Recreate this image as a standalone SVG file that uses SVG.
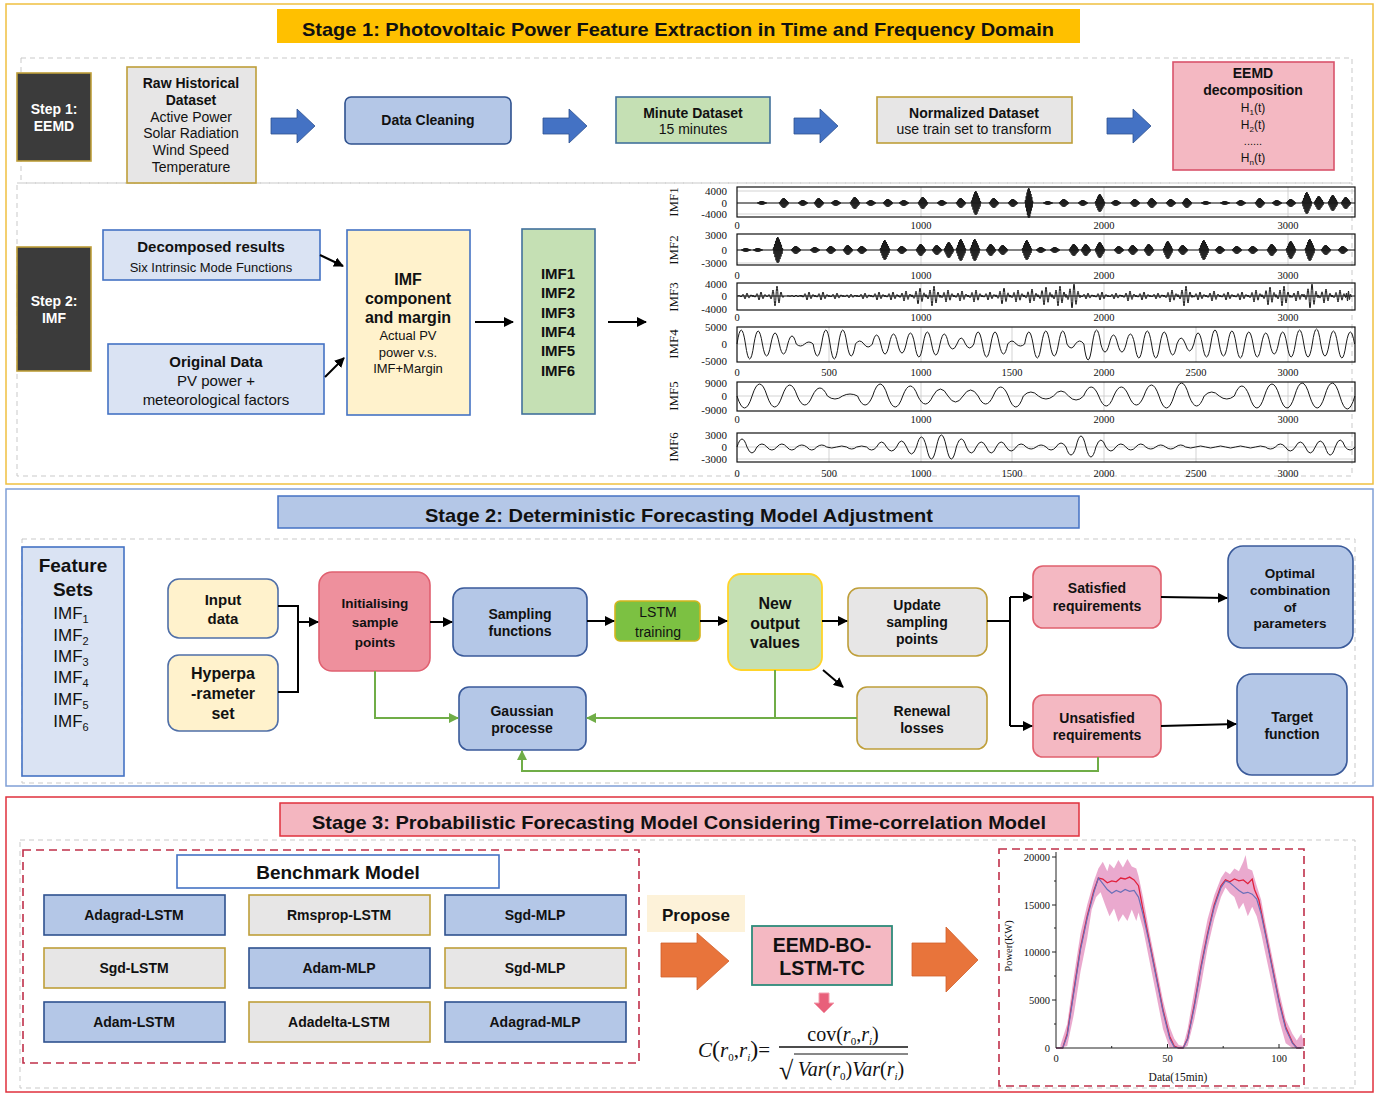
<svg xmlns="http://www.w3.org/2000/svg" xmlns:xlink="http://www.w3.org/1999/xlink" width="1390" height="1093" viewBox="0 0 1390 1093">
<style>
.f{font-family:"Liberation Sans",Arial,sans-serif;fill:#111;text-anchor:middle}
.fb{font-weight:bold}
.w{fill:#fff}
.sr{font-family:"Liberation Serif","Times New Roman",serif;fill:#111}
.dash{fill:none;stroke:#c9c9c9;stroke-width:1;stroke-dasharray:5 4}
.nb{fill:#b4c7e7;stroke:#2f528f;stroke-width:1.6}
.ng{fill:#e7e6e6;stroke:#bf9f3a;stroke-width:1.6}
.np{fill:#f4b8c2;stroke:#e0606e;stroke-width:1.6}
.nl{fill:#dae3f3;stroke:#4472c4;stroke-width:1.6}
.ny{fill:#fff2cc;stroke:#4472c4;stroke-width:1.6}
.ngr{fill:#c5e0b4;stroke:#41719c;stroke-width:1.6}
.dk{fill:#3b3b3b;stroke:#bf9f3a;stroke-width:1.6}
.blk{fill:none;stroke:#000;stroke-width:2}
.grn{fill:none;stroke:#70ad47;stroke-width:2}
.frame{fill:none;stroke:#111;stroke-width:1.2}
.grid{stroke:#c8c8c8;stroke-width:0.8}
.wave{fill:none;stroke:#1a1a1a;stroke-width:1}
</style>
<defs>
<marker id="ah" viewBox="0 0 10 10" refX="9" refY="5" markerWidth="10" markerHeight="10" markerUnits="userSpaceOnUse" orient="auto"><path d="M0,0 L10,5 L0,10 z" fill="#000"/></marker>
<marker id="ahg" viewBox="0 0 10 10" refX="9" refY="5" markerWidth="10" markerHeight="10" markerUnits="userSpaceOnUse" orient="auto"><path d="M0,0 L10,5 L0,10 z" fill="#70ad47"/></marker>
<path id="barrow" d="M0,-8 H26 V-17 L44,0 L26,17 V8 H0 Z" fill="#4472c4" stroke="#2f528f" stroke-width="0.8"/>
<path id="bu" vector-effect="non-scaling-stroke" d="M-5,0 L-4.5,-0.2 L-4,0.3 L-3.5,-0.45 L-3,0.55 L-2.5,-0.7 L-2,0.8 L-1.5,-0.9 L-1,0.95 L-0.5,-1 L0,1 L0.5,-0.95 L1,0.9 L1.5,-0.8 L2,0.7 L2.5,-0.6 L3,0.5 L3.5,-0.4 L4,0.3 L4.5,-0.15 L5,0"/>
<path id="wp" vector-effect="non-scaling-stroke" d="M-8,0 q1,-0.3 2,0 q1,0.6 2,0 q1,-1.2 2,0 q1,2 2,0 q1,-2 2,0 q1,1.4 2,0 q1,-0.8 2,0 q1,0.3 2,0"/>
</defs>

<!-- panels -->
<rect x="6" y="4" width="1367" height="480" fill="#fff" stroke="#f0c040" stroke-width="1.5"/>
<rect x="6" y="489" width="1367" height="297" fill="#fff" stroke="#7f9fd6" stroke-width="1.5"/>
<rect x="6" y="797" width="1367" height="295" fill="#fff" stroke="#e0303d" stroke-width="1.5"/>
<rect class="dash" x="21" y="58" width="1331" height="125"/>
<rect class="dash" x="17" y="183" width="1335" height="293"/>
<rect class="dash" x="22" y="539" width="1333" height="244"/>
<rect class="dash" x="20" y="840" width="1335" height="248"/>

<g id="title1"><rect x="277" y="9" width="803" height="34" fill="#ffc000"/><text class="f fb" x="678" y="36" font-size="19" textLength="752" lengthAdjust="spacingAndGlyphs">Stage 1: Photovoltaic Power Feature Extraction in Time and Frequency Domain</text></g>
<g id="title2"><rect x="278" y="496" width="801" height="32" fill="#b4c7e7" stroke="#4472c4" stroke-width="1.5"/><text class="f fb" x="679" y="522" font-size="19" textLength="508" lengthAdjust="spacingAndGlyphs">Stage 2: Deterministic Forecasting Model Adjustment</text></g>
<g id="title3"><rect x="280" y="803" width="799" height="33" fill="#f4b6c0" stroke="#e0303d" stroke-width="1.5"/><text class="f fb" x="679" y="829" font-size="19" textLength="734" lengthAdjust="spacingAndGlyphs">Stage 3: Probabilistic Forecasting Model Considering Time-correlation Model</text></g>

<!-- Stage 1 row 1 -->
<g id="step1"><rect class="dk" x="17" y="73" width="74" height="88"/><text class="f fb w" x="54" y="114" font-size="14">Step 1:</text><text class="f fb w" x="54" y="131" font-size="14">EEMD</text></g>
<g id="raw"><rect class="ng" x="127" y="67" width="129" height="116"/>
<text class="f fb" x="191" y="88" font-size="14">Raw Historical</text><text class="f fb" x="191" y="105" font-size="14">Dataset</text>
<text class="f" x="191" y="122" font-size="14">Active Power</text><text class="f" x="191" y="138" font-size="14">Solar Radiation</text><text class="f" x="191" y="155" font-size="14">Wind Speed</text><text class="f" x="191" y="172" font-size="14">Temperature</text></g>
<g id="clean"><rect class="nb" x="345" y="97" width="166" height="47" rx="6"/><text class="f fb" x="428" y="125" font-size="14">Data Cleaning</text></g>
<g id="minute"><rect class="ngr" x="616" y="97" width="154" height="46" stroke="#3f5f9f"/><text class="f fb" x="693" y="118" font-size="14">Minute Dataset</text><text class="f" x="693" y="134" font-size="14">15 minutes</text></g>
<g id="norm"><rect class="ng" x="877" y="97" width="195" height="46"/><text class="f fb" x="974" y="118" font-size="14">Normalized Dataset</text><text class="f" x="974" y="134" font-size="14">use train set to transform</text></g>
<g id="eemd"><rect x="1173" y="62" width="161" height="108" fill="#f4b8c2" stroke="#d9536b" stroke-width="1.6"/>
<text class="f fb" x="1253" y="78" font-size="14">EEMD</text><text class="f fb" x="1253" y="95" font-size="14">decomposition</text>
<text class="f" x="1253" y="112" font-size="12">H<tspan font-size="8" dy="3">1</tspan><tspan dy="-3">(t)</tspan></text>
<text class="f" x="1253" y="129" font-size="12">H<tspan font-size="8" dy="3">2</tspan><tspan dy="-3">(t)</tspan></text>
<text class="f" x="1253" y="145" font-size="11">......</text>
<text class="f" x="1253" y="162" font-size="12">H<tspan font-size="8" dy="3">n</tspan><tspan dy="-3">(t)</tspan></text></g>

<!-- Stage 1 row 2 -->
<g id="step2"><rect class="dk" x="17" y="247" width="74" height="124"/><text class="f fb w" x="54" y="306" font-size="14">Step 2:</text><text class="f fb w" x="54" y="323" font-size="14">IMF</text></g>
<g id="decomp"><rect class="nl" x="103" y="230" width="217" height="50"/><text class="f fb" x="211" y="252" font-size="15">Decomposed results</text><text class="f" x="211" y="272" font-size="13">Six Intrinsic Mode Functions</text></g>
<g id="orig"><rect class="nl" x="108" y="344" width="216" height="70"/><text class="f fb" x="216" y="367" font-size="15">Original Data</text><text class="f" x="216" y="386" font-size="15">PV power +</text><text class="f" x="216" y="405" font-size="15">meteorological factors</text></g>
<g id="imfcomp"><rect class="ny" x="347" y="230" width="123" height="185"/>
<text class="f fb" x="408" y="285" font-size="16">IMF</text><text class="f fb" x="408" y="304" font-size="16">component</text><text class="f fb" x="408" y="323" font-size="16">and margin</text>
<text class="f" x="408" y="340" font-size="13">Actual PV</text><text class="f" x="408" y="357" font-size="13">power v.s.</text><text class="f" x="408" y="373" font-size="13">IMF+Margin</text></g>
<g id="imflist"><rect class="ngr" x="522" y="229" width="73" height="185"/>
<text class="f fb" x="558" y="279" font-size="15">IMF1</text><text class="f fb" x="558" y="298" font-size="15">IMF2</text><text class="f fb" x="558" y="318" font-size="15">IMF3</text><text class="f fb" x="558" y="337" font-size="15">IMF4</text><text class="f fb" x="558" y="356" font-size="15">IMF5</text><text class="f fb" x="558" y="376" font-size="15">IMF6</text></g>

<!-- IMF plots -->
<g id="imfplots">
<g class="grid">
<line x1="921" y1="187" x2="921" y2="217"/><line x1="1104" y1="187" x2="1104" y2="217"/><line x1="1288" y1="187" x2="1288" y2="217"/>
<line x1="737" y1="191" x2="1355" y2="191"/><line x1="737" y1="203" x2="1355" y2="203"/><line x1="737" y1="214" x2="1355" y2="214"/>
<line x1="921" y1="234" x2="921" y2="265"/><line x1="1104" y1="234" x2="1104" y2="265"/><line x1="1288" y1="234" x2="1288" y2="265"/>
<line x1="737" y1="250" x2="1355" y2="250"/><line x1="737" y1="263" x2="1355" y2="263"/>
<line x1="921" y1="283" x2="921" y2="310"/><line x1="1104" y1="283" x2="1104" y2="310"/><line x1="1288" y1="283" x2="1288" y2="310"/>
<line x1="737" y1="296" x2="1355" y2="296"/>
<line x1="829" y1="327" x2="829" y2="362"/><line x1="921" y1="327" x2="921" y2="362"/><line x1="1012" y1="327" x2="1012" y2="362"/><line x1="1104" y1="327" x2="1104" y2="362"/><line x1="1196" y1="327" x2="1196" y2="362"/><line x1="1288" y1="327" x2="1288" y2="362"/>
<line x1="737" y1="344" x2="1355" y2="344"/>
<line x1="921" y1="382" x2="921" y2="411"/><line x1="1104" y1="382" x2="1104" y2="411"/><line x1="1288" y1="382" x2="1288" y2="411"/>
<line x1="737" y1="396" x2="1355" y2="396"/>
<line x1="829" y1="433" x2="829" y2="462"/><line x1="921" y1="433" x2="921" y2="462"/><line x1="1012" y1="433" x2="1012" y2="462"/><line x1="1104" y1="433" x2="1104" y2="462"/><line x1="1196" y1="433" x2="1196" y2="462"/><line x1="1288" y1="433" x2="1288" y2="462"/>
<line x1="737" y1="447" x2="1355" y2="447"/><line x1="737" y1="459" x2="1355" y2="459"/>
</g>
<g class="wave">
<line x1="737" y1="203" x2="1355" y2="203"/>
<use xlink:href="#bu" transform="translate(762,203) scale(1,2)"/>
<use xlink:href="#bu" transform="translate(784,203) scale(1,5)"/>
<use xlink:href="#bu" transform="translate(803,203) scale(1,3)"/>
<use xlink:href="#bu" transform="translate(819,203) scale(1,5)"/>
<use xlink:href="#bu" transform="translate(836,203) scale(1,3)"/>
<use xlink:href="#bu" transform="translate(855,203) scale(1,6)"/>
<use xlink:href="#bu" transform="translate(871,203) scale(1,3)"/>
<use xlink:href="#bu" transform="translate(888,203) scale(1,4)"/>
<use xlink:href="#bu" transform="translate(904,203) scale(1,3)"/>
<use xlink:href="#bu" transform="translate(923,203) scale(1,6)"/>
<use xlink:href="#bu" transform="translate(942,203) scale(1,3)"/>
<use xlink:href="#bu" transform="translate(961,203) scale(1,5)"/>
<use xlink:href="#bu" transform="translate(976,203) scale(1,12)"/>
<use xlink:href="#bu" transform="translate(994,203) scale(1,5)"/>
<use xlink:href="#bu" transform="translate(1013,203) scale(1,4)"/>
<use xlink:href="#bu" transform="translate(1029,203) scale(0.8,15)"/>
<use xlink:href="#bu" transform="translate(1048,203) scale(1,2)"/>
<use xlink:href="#bu" transform="translate(1064,203) scale(1,4)"/>
<use xlink:href="#bu" transform="translate(1083,203) scale(1,3)"/>
<use xlink:href="#bu" transform="translate(1100,203) scale(1,9)"/>
<use xlink:href="#bu" transform="translate(1116,203) scale(1,3)"/>
<use xlink:href="#bu" transform="translate(1135,203) scale(1,4)"/>
<use xlink:href="#bu" transform="translate(1152,203) scale(1,5)"/>
<use xlink:href="#bu" transform="translate(1171,203) scale(1,4)"/>
<use xlink:href="#bu" transform="translate(1187,203) scale(1,5)"/>
<use xlink:href="#bu" transform="translate(1206,203) scale(1,2)"/>
<use xlink:href="#bu" transform="translate(1225,203) scale(1,2)"/>
<use xlink:href="#bu" transform="translate(1241,203) scale(1,3)"/>
<use xlink:href="#bu" transform="translate(1260,203) scale(1,5)"/>
<use xlink:href="#bu" transform="translate(1277,203) scale(1,3)"/>
<use xlink:href="#bu" transform="translate(1291,203) scale(1,4)"/>
<use xlink:href="#bu" transform="translate(1307,203) scale(1,11)"/>
<use xlink:href="#bu" transform="translate(1319,203) scale(1,7)"/>
<use xlink:href="#bu" transform="translate(1333,203) scale(1,8)"/>
<use xlink:href="#bu" transform="translate(1346,203) scale(1,6)"/>

<line x1="737" y1="250" x2="1355" y2="250"/>
<use xlink:href="#bu" transform="translate(746,250) scale(1,2)"/>
<use xlink:href="#bu" transform="translate(758,250) scale(1,2)"/>
<use xlink:href="#bu" transform="translate(778,250) scale(1,13)"/>
<use xlink:href="#bu" transform="translate(796,250) scale(1,4)"/>
<use xlink:href="#bu" transform="translate(815,250) scale(1,3)"/>
<use xlink:href="#bu" transform="translate(831,250) scale(1,4)"/>
<use xlink:href="#bu" transform="translate(848,250) scale(1,5)"/>
<use xlink:href="#bu" transform="translate(862,250) scale(1,4)"/>
<use xlink:href="#bu" transform="translate(885,250) scale(1,10)"/>
<use xlink:href="#bu" transform="translate(902,250) scale(1,4)"/>
<use xlink:href="#bu" transform="translate(921,250) scale(1,6)"/>
<use xlink:href="#bu" transform="translate(937,250) scale(1,5)"/>
<use xlink:href="#bu" transform="translate(949,250) scale(1,8)"/>
<use xlink:href="#bu" transform="translate(961,250) scale(1,11)"/>
<use xlink:href="#bu" transform="translate(975,250) scale(1,11)"/>
<use xlink:href="#bu" transform="translate(991,250) scale(1,6)"/>
<use xlink:href="#bu" transform="translate(1003,250) scale(1,5)"/>
<use xlink:href="#bu" transform="translate(1027,250) scale(1,10)"/>
<use xlink:href="#bu" transform="translate(1041,250) scale(1,3)"/>
<use xlink:href="#bu" transform="translate(1055,250) scale(1,3)"/>
<use xlink:href="#bu" transform="translate(1074,250) scale(1,6)"/>
<use xlink:href="#bu" transform="translate(1086,250) scale(1,6)"/>
<use xlink:href="#bu" transform="translate(1100,250) scale(1,8)"/>
<use xlink:href="#bu" transform="translate(1119,250) scale(1,4)"/>
<use xlink:href="#bu" transform="translate(1133,250) scale(1,5)"/>
<use xlink:href="#bu" transform="translate(1149,250) scale(1,6)"/>
<use xlink:href="#bu" transform="translate(1168,250) scale(1,9)"/>
<use xlink:href="#bu" transform="translate(1183,250) scale(1,5)"/>
<use xlink:href="#bu" transform="translate(1204,250) scale(1,10)"/>
<use xlink:href="#bu" transform="translate(1220,250) scale(1,4)"/>
<use xlink:href="#bu" transform="translate(1237,250) scale(1,4)"/>
<use xlink:href="#bu" transform="translate(1253,250) scale(1,4)"/>
<use xlink:href="#bu" transform="translate(1272,250) scale(1,6)"/>
<use xlink:href="#bu" transform="translate(1291,250) scale(1,9)"/>
<use xlink:href="#bu" transform="translate(1310,250) scale(1,11)"/>
<use xlink:href="#bu" transform="translate(1326,250) scale(1,5)"/>
<use xlink:href="#bu" transform="translate(1343,250) scale(1,4)"/>

<line x1="737" y1="296" x2="1355" y2="296"/>
<use xlink:href="#wp" transform="translate(746,296) scale(1,3)"/>
<use xlink:href="#wp" transform="translate(760,296) scale(1,4)"/>
<use xlink:href="#wp" transform="translate(776,296) scale(1,10)"/>
<use xlink:href="#wp" transform="translate(795,296) scale(1,1)"/>
<use xlink:href="#wp" transform="translate(808,296) scale(1,4)"/>
<use xlink:href="#wp" transform="translate(822,296) scale(1,4)"/>
<use xlink:href="#wp" transform="translate(836,296) scale(1,3)"/>
<use xlink:href="#wp" transform="translate(850,296) scale(1,2)"/>
<use xlink:href="#wp" transform="translate(864,296) scale(1,3)"/>
<use xlink:href="#wp" transform="translate(878,296) scale(1,4)"/>
<use xlink:href="#wp" transform="translate(892,296) scale(1,4)"/>
<use xlink:href="#wp" transform="translate(905,296) scale(1,5)"/>
<use xlink:href="#wp" transform="translate(919,296) scale(1,8)"/>
<use xlink:href="#wp" transform="translate(933,296) scale(1,10)"/>
<use xlink:href="#wp" transform="translate(947,296) scale(1,6)"/>
<use xlink:href="#wp" transform="translate(961,296) scale(1,5)"/>
<use xlink:href="#wp" transform="translate(975,296) scale(1,6)"/>
<use xlink:href="#wp" transform="translate(989,296) scale(1,4)"/>
<use xlink:href="#wp" transform="translate(1003,296) scale(1,8)"/>
<use xlink:href="#wp" transform="translate(1017,296) scale(1,6)"/>
<use xlink:href="#wp" transform="translate(1031,296) scale(1,7)"/>
<use xlink:href="#wp" transform="translate(1045,296) scale(1,9)"/>
<use xlink:href="#wp" transform="translate(1059,296) scale(1,10)"/>
<use xlink:href="#wp" transform="translate(1073,296) scale(1,12)"/>
<use xlink:href="#wp" transform="translate(1087,296) scale(1,3)"/>
<use xlink:href="#wp" transform="translate(1101,296) scale(1,4)"/>
<use xlink:href="#wp" transform="translate(1115,296) scale(1,3)"/>
<use xlink:href="#wp" transform="translate(1129,296) scale(1,5)"/>
<use xlink:href="#wp" transform="translate(1143,296) scale(1,4)"/>
<use xlink:href="#wp" transform="translate(1157,296) scale(1,3)"/>
<use xlink:href="#wp" transform="translate(1171,296) scale(1,6)"/>
<use xlink:href="#wp" transform="translate(1185,296) scale(1,10)"/>
<use xlink:href="#wp" transform="translate(1199,296) scale(1,4)"/>
<use xlink:href="#wp" transform="translate(1213,296) scale(1,5)"/>
<use xlink:href="#wp" transform="translate(1227,296) scale(1,4)"/>
<use xlink:href="#wp" transform="translate(1241,296) scale(1,4)"/>
<use xlink:href="#wp" transform="translate(1255,296) scale(1,6)"/>
<use xlink:href="#wp" transform="translate(1269,296) scale(1,9)"/>
<use xlink:href="#wp" transform="translate(1283,296) scale(1,10)"/>
<use xlink:href="#wp" transform="translate(1297,296) scale(1,5)"/>
<use xlink:href="#wp" transform="translate(1311,296) scale(1,12)"/>
<use xlink:href="#wp" transform="translate(1325,296) scale(1,7)"/>
<use xlink:href="#wp" transform="translate(1339,296) scale(1,6)"/>
<use xlink:href="#wp" transform="translate(1348,296) scale(0.5,5)"/>

<path d="M737,344 q4.23,-28 8.46,0 q4.23,30 8.46,0 q4.23,-26 8.46,0 q4.23,24 8.46,0 q4.23,-22 8.46,0 q4.23,20 8.46,0 q4.23,-16 8.46,0 q4.23,4 8.46,0 q4.23,-4 8.46,0 q4.23,24 8.46,0 q4.23,-28 8.46,0 q4.23,30 8.46,0 q4.23,-28 8.46,0 q4.23,24 8.46,0 q4.23,-6 8.46,0 q4.23,6 8.46,0 q4.23,-18 8.46,0 q4.23,20 8.46,0 q4.23,-20 8.46,0 q4.23,18 8.46,0 q4.23,-22 8.46,0 q4.23,26 8.46,0 q4.23,-24 8.46,0 q4.23,22 8.46,0 q4.23,-20 8.46,0 q4.23,10 8.46,0 q4.23,-12 8.46,0 q4.23,8 8.46,0 q4.23,-24 8.46,0 q4.23,26 8.46,0 q4.23,-24 8.46,0 q4.23,20 8.46,0 q4.23,-6 8.46,0 q4.23,4 8.46,0 q4.23,-24 8.46,0 q4.23,28 8.46,0 q4.23,-26 8.46,0 q4.23,24 8.46,0 q4.23,-26 8.46,0 q4.23,8 8.46,0 q4.23,-6 8.46,0 q4.23,32 8.46,0 q4.23,-28 8.46,0 q4.23,16 8.46,0 q4.23,-18 8.46,0 q4.23,16 8.46,0 q4.23,-20 8.46,0 q4.23,28 8.46,0 q4.23,-26 8.46,0 q4.23,28 8.46,0 q4.23,-24 8.46,0 q4.23,22 8.46,0 q4.23,-12 8.46,0 q4.23,14 8.46,0 q4.23,-22 8.46,0 q4.23,26 8.46,0 q4.23,-28 8.46,0 q4.23,24 8.46,0 q4.23,-26 8.46,0 q4.23,28 8.46,0 q4.23,-24 8.46,0 q4.23,26 8.46,0 q4.23,-22 8.46,0 q4.23,20 8.46,0 q4.23,-24 8.46,0 q4.23,26 8.46,0 q4.23,-28 8.46,0 q4.23,26 8.46,0 q4.23,-30 8.46,0 q4.23,24 8.46,0 q4.23,-26 8.46,0 q4.23,28 8.46,0 q4.23,-24 8.46,0"/>

<path d="M737,396 q7.535,24 15.07,0 q7.535,-24 15.07,0 q7.535,22 15.07,0 q7.535,-22 15.07,0 q7.535,18 15.07,0 q7.535,-16 15.07,0 q7.535,6 15.07,0 q7.535,-4 15.07,0 q7.535,18 15.07,0 q7.535,-24 15.07,0 q7.535,22 15.07,0 q7.535,-20 15.07,0 q7.535,16 15.07,0 q7.535,-14 15.07,0 q7.535,12 15.07,0 q7.535,-12 15.07,0 q7.535,16 15.07,0 q7.535,-18 15.07,0 q7.535,22 15.07,0 q7.535,-8 15.07,0 q7.535,6 15.07,0 q7.535,-10 15.07,0 q7.535,8 15.07,0 q7.535,-18 15.07,0 q7.535,20 15.07,0 q7.535,-18 15.07,0 q7.535,18 15.07,0 q7.535,-22 15.07,0 q7.535,24 15.07,0 q7.535,-26 15.07,0 q7.535,20 15.07,0 q7.535,-8 15.07,0 q7.535,6 15.07,0 q7.535,-20 15.07,0 q7.535,24 15.07,0 q7.535,-24 15.07,0 q7.535,24 15.07,0 q7.535,-26 15.07,0 q7.535,24 15.07,0 q7.535,-26 15.07,0 q7.535,26 15.07,0"/>

<path d="M737,447 q4.985,-16 9.97,0 q4.985,12 9.97,0 q4.985,-6 9.97,0 q4.985,6 9.97,0 q4.985,-6 9.97,0 q4.985,6 9.97,0 q4.985,-4 9.97,0 q4.985,6 9.97,0 q4.985,-4 9.97,0 q4.985,2 9.97,0 q4.985,-2 9.97,0 q4.985,4 9.97,0 q4.985,-2 9.97,0 q4.985,6 9.97,0 q4.985,-10 9.97,0 q4.985,8 9.97,0 q4.985,-12 9.97,0 q4.985,14 9.97,0 q4.985,-20 9.97,0 q4.985,24 9.97,0 q4.985,-24 9.97,0 q4.985,24 9.97,0 q4.985,-16 9.97,0 q4.985,12 9.97,0 q4.985,-10 9.97,0 q4.985,12 9.97,0 q4.985,-10 9.97,0 q4.985,8 9.97,0 q4.985,-6 9.97,0 q4.985,4 9.97,0 q4.985,-4 9.97,0 q4.985,6 9.97,0 q4.985,-8 9.97,0 q4.985,16 9.97,0 q4.985,-22 9.97,0 q4.985,20 9.97,0 q4.985,-14 9.97,0 q4.985,8 9.97,0 q4.985,-6 9.97,0 q4.985,6 9.97,0 q4.985,-6 9.97,0 q4.985,4 9.97,0 q4.985,-4 9.97,0 q4.985,4 9.97,0 q4.985,-4 9.97,0 q4.985,2 9.97,0 q4.985,-2 9.97,0 q4.985,2 9.97,0 q4.985,-2 9.97,0 q4.985,2 9.97,0 q4.985,-2 9.97,0 q4.985,2 9.97,0 q4.985,-2 9.97,0 q4.985,4 9.97,0 q4.985,-6 9.97,0 q4.985,8 9.97,0 q4.985,-10 9.97,0 q4.985,12 9.97,0 q4.985,-12 9.97,0 q4.985,16 9.97,0 q4.985,-14 9.97,0 q4.985,6 9.97,0"/>
</g>
<rect class="frame" x="737" y="187" width="618" height="30"/>
<rect class="frame" x="737" y="234" width="618" height="31"/>
<rect class="frame" x="737" y="283" width="618" height="27"/>
<rect class="frame" x="737" y="327" width="618" height="35"/>
<rect class="frame" x="737" y="382" width="618" height="29"/>
<rect class="frame" x="737" y="433" width="618" height="29"/>
<g class="sr" font-size="11" text-anchor="end">
<text x="727" y="195">4000</text><text x="727" y="207">0</text><text x="727" y="218">-4000</text>
<text x="727" y="239">3000</text><text x="727" y="254">0</text><text x="727" y="267">-3000</text>
<text x="727" y="288">4000</text><text x="727" y="300">0</text><text x="727" y="313">-4000</text>
<text x="727" y="331">5000</text><text x="727" y="348">0</text><text x="727" y="365">-5000</text>
<text x="727" y="387">9000</text><text x="727" y="400">0</text><text x="727" y="414">-9000</text>
<text x="727" y="439">3000</text><text x="727" y="451">0</text><text x="727" y="463">-3000</text>
</g>
<g class="sr" font-size="10.5" text-anchor="middle">
<text x="737" y="229">0</text><text x="921" y="229">1000</text><text x="1104" y="229">2000</text><text x="1288" y="229">3000</text>
<text x="737" y="279">0</text><text x="921" y="279">1000</text><text x="1104" y="279">2000</text><text x="1288" y="279">3000</text>
<text x="737" y="321">0</text><text x="921" y="321">1000</text><text x="1104" y="321">2000</text><text x="1288" y="321">3000</text>
<text x="737" y="376">0</text><text x="829" y="376">500</text><text x="921" y="376">1000</text><text x="1012" y="376">1500</text><text x="1104" y="376">2000</text><text x="1196" y="376">2500</text><text x="1288" y="376">3000</text>
<text x="737" y="423">0</text><text x="921" y="423">1000</text><text x="1104" y="423">2000</text><text x="1288" y="423">3000</text>
<text x="737" y="477">0</text><text x="829" y="477">500</text><text x="921" y="477">1000</text><text x="1012" y="477">1500</text><text x="1104" y="477">2000</text><text x="1196" y="477">2500</text><text x="1288" y="477">3000</text>
</g>
<g class="sr" font-size="13" text-anchor="middle">
<text transform="translate(678,202) rotate(-90)">IMF1</text>
<text transform="translate(678,250) rotate(-90)">IMF2</text>
<text transform="translate(678,297) rotate(-90)">IMF3</text>
<text transform="translate(678,344) rotate(-90)">IMF4</text>
<text transform="translate(678,396) rotate(-90)">IMF5</text>
<text transform="translate(678,447) rotate(-90)">IMF6</text>
</g>
</g>

<!-- Stage 2 nodes -->
<g id="features"><rect x="22" y="547" width="102" height="229" fill="#dae3f3" stroke="#4472c4" stroke-width="1.6"/>
<text class="f fb" x="73" y="572" font-size="19">Feature</text><text class="f fb" x="73" y="596" font-size="19">Sets</text>
<text class="f" x="71" y="619" font-size="17">IMF<tspan font-size="11" dy="4">1</tspan></text>
<text class="f" x="71" y="641" font-size="17">IMF<tspan font-size="11" dy="4">2</tspan></text>
<text class="f" x="71" y="662" font-size="17">IMF<tspan font-size="11" dy="4">3</tspan></text>
<text class="f" x="71" y="683" font-size="17">IMF<tspan font-size="11" dy="4">4</tspan></text>
<text class="f" x="71" y="705" font-size="17">IMF<tspan font-size="11" dy="4">5</tspan></text>
<text class="f" x="71" y="727" font-size="17">IMF<tspan font-size="11" dy="4">6</tspan></text></g>
<g id="input"><rect x="168" y="579" width="110" height="59" rx="11" fill="#fff2cc" stroke="#4f6fa8" stroke-width="1.6"/><text class="f fb" x="223" y="605" font-size="15">Input</text><text class="f fb" x="223" y="624" font-size="15">data</text></g>
<g id="hyper"><rect x="168" y="655" width="110" height="76" rx="11" fill="#fff2cc" stroke="#4f6fa8" stroke-width="1.6"/><text class="f fb" x="223" y="679" font-size="16">Hyperpa</text><text class="f fb" x="223" y="699" font-size="16">-rameter</text><text class="f fb" x="223" y="719" font-size="16">set</text></g>
<g id="init"><rect x="319" y="572" width="111" height="99" rx="13" fill="#ee909d" stroke="#e06070" stroke-width="1.6"/><text class="f fb" x="375" y="608" font-size="13.5">Initialising</text><text class="f fb" x="375" y="627" font-size="13.5">sample</text><text class="f fb" x="375" y="647" font-size="13.5">points</text></g>
<g id="sampling"><rect x="453" y="588" width="134" height="68" rx="11" fill="#b4c7e7" stroke="#3a5a9a" stroke-width="1.6"/><text class="f fb" x="520" y="619" font-size="14">Sampling</text><text class="f fb" x="520" y="636" font-size="14">functions</text></g>
<g id="lstm"><rect x="615" y="601" width="85" height="40" rx="5" fill="#7cc142" stroke="#d4b51d" stroke-width="1.6"/><text class="f" x="658" y="617" font-size="14">LSTM</text><text class="f" x="658" y="637" font-size="14">training</text></g>
<g id="newout"><rect x="728" y="574" width="94" height="96" rx="13" fill="#c5e0b4" stroke="#ffd42a" stroke-width="1.8"/><text class="f fb" x="775" y="609" font-size="16">New</text><text class="f fb" x="775" y="629" font-size="16">output</text><text class="f fb" x="775" y="648" font-size="16">values</text></g>
<g id="update"><rect x="848" y="588" width="139" height="68" rx="11" class="ng"/><text class="f fb" x="917" y="610" font-size="14">Update</text><text class="f fb" x="917" y="627" font-size="14">sampling</text><text class="f fb" x="917" y="644" font-size="14">points</text></g>
<g id="satisfied"><rect x="1033" y="566" width="128" height="62" rx="10" class="np"/><text class="f fb" x="1097" y="593" font-size="14">Satisfied</text><text class="f fb" x="1097" y="611" font-size="14">requirements</text></g>
<g id="optimal"><rect x="1228" y="546" width="125" height="102" rx="15" fill="#b4c7e7" stroke="#3a5a9a" stroke-width="1.6"/><text class="f fb" x="1290" y="578" font-size="13.5">Optimal</text><text class="f fb" x="1290" y="595" font-size="13.5">combination</text><text class="f fb" x="1290" y="612" font-size="13.5">of</text><text class="f fb" x="1290" y="628" font-size="13.5">parameters</text></g>
<g id="unsatisfied"><rect x="1033" y="695" width="128" height="62" rx="10" class="np"/><text class="f fb" x="1097" y="723" font-size="14">Unsatisfied</text><text class="f fb" x="1097" y="740" font-size="14">requirements</text></g>
<g id="target"><rect x="1237" y="674" width="110" height="101" rx="15" fill="#b4c7e7" stroke="#3a5a9a" stroke-width="1.6"/><text class="f fb" x="1292" y="722" font-size="14">Target</text><text class="f fb" x="1292" y="739" font-size="14">function</text></g>
<g id="renewal"><rect x="857" y="687" width="130" height="62" rx="10" class="ng"/><text class="f fb" x="922" y="716" font-size="14">Renewal</text><text class="f fb" x="922" y="733" font-size="14">losses</text></g>
<g id="gaussian"><rect x="459" y="687" width="127" height="63" rx="10" fill="#b4c7e7" stroke="#3a5a9a" stroke-width="1.6"/><text class="f fb" x="522" y="716" font-size="14">Gaussian</text><text class="f fb" x="522" y="733" font-size="14">processe</text></g>

<!-- Stage 3 nodes -->
<rect x="23" y="850" width="616" height="213" fill="none" stroke="#c0304a" stroke-width="1.6" stroke-dasharray="8 5"/>
<g id="benchmark"><rect x="177" y="855" width="322" height="33" fill="#fff" stroke="#4472c4" stroke-width="1.6"/><text class="f fb" x="338" y="879" font-size="19">Benchmark Model</text></g>
<g id="m1"><rect class="nb" x="44" y="895" width="181" height="40"/><text class="f fb" x="134" y="920" font-size="14">Adagrad-LSTM</text></g>
<g id="m2"><rect class="ng" x="249" y="895" width="181" height="40"/><text class="f fb" x="339" y="920" font-size="14">Rmsprop-LSTM</text></g>
<g id="m3"><rect class="nb" x="445" y="895" width="181" height="40"/><text class="f fb" x="535" y="920" font-size="14">Sgd-MLP</text></g>
<g id="m4"><rect class="ng" x="44" y="948" width="181" height="40"/><text class="f fb" x="134" y="973" font-size="14">Sgd-LSTM</text></g>
<g id="m5"><rect class="nb" x="249" y="948" width="181" height="40"/><text class="f fb" x="339" y="973" font-size="14">Adam-MLP</text></g>
<g id="m6"><rect class="ng" x="445" y="948" width="181" height="40"/><text class="f fb" x="535" y="973" font-size="14">Sgd-MLP</text></g>
<g id="m7"><rect class="nb" x="44" y="1002" width="181" height="40"/><text class="f fb" x="134" y="1027" font-size="14">Adam-LSTM</text></g>
<g id="m8"><rect class="ng" x="249" y="1002" width="181" height="40"/><text class="f fb" x="339" y="1027" font-size="14">Adadelta-LSTM</text></g>
<g id="m9"><rect class="nb" x="445" y="1002" width="181" height="40"/><text class="f fb" x="535" y="1027" font-size="14">Adagrad-MLP</text></g>
<g id="propose"><rect x="647" y="895" width="98" height="37" fill="#fdf2d9"/><text class="f fb" x="696" y="921" font-size="17">Propose</text></g>
<g id="proposed"><rect x="752" y="926" width="140" height="59" fill="#f4b8c2" stroke="#2e8b7a" stroke-width="1.8"/><text class="f fb" x="822" y="952" font-size="19.5">EEMD-BO-</text><text class="f fb" x="822" y="975" font-size="19.5">LSTM-TC</text></g>
<g id="oarrow1"><path d="M661,943 H697 V933 L729,961 L697,990 V977 H661 Z" fill="#e8743b" stroke="#d0602c" stroke-width="0.8"/></g>
<g id="oarrow2"><path d="M912,943 H946 V927 L978,960 L946,992 V976 H912 Z" fill="#e8743b" stroke="#d0602c" stroke-width="0.8"/></g>
<g id="parrow"><path d="M819,993 H829 V1003 H834 L824,1013 L814,1003 H819 Z" fill="#e8607a" stroke="#f3a0b0" stroke-width="1"/></g>
<g id="formula" class="sr">
<text x="698" y="1057" font-size="21"><tspan font-style="italic">C</tspan><tspan font-size="24">(</tspan><tspan font-style="italic">r</tspan><tspan font-size="11" dy="4">0</tspan><tspan dy="-4">,</tspan><tspan font-style="italic">r</tspan><tspan font-size="11" font-style="italic" dy="4">i</tspan><tspan dy="-4" font-size="24">)</tspan>=</text>
<text x="843" y="1041" font-size="20" text-anchor="middle">cov(<tspan font-style="italic">r</tspan><tspan font-size="11" dy="4">0</tspan><tspan dy="-4">,</tspan><tspan font-style="italic">r</tspan><tspan font-size="11" font-style="italic" dy="4">i</tspan><tspan dy="-4">)</tspan></text>
<line x1="779" y1="1047" x2="908" y2="1047" stroke="#111" stroke-width="1.5"/>
<text x="779" y="1079" font-size="26">√</text>
<line x1="794" y1="1054" x2="908" y2="1054" stroke="#111" stroke-width="1"/>
<text x="851" y="1076" font-size="20" text-anchor="middle"><tspan font-style="italic">Var</tspan>(<tspan font-style="italic">r</tspan><tspan font-size="11" dy="4">0</tspan><tspan dy="-4">)</tspan><tspan font-style="italic">Var</tspan>(<tspan font-style="italic">r</tspan><tspan font-size="11" font-style="italic" dy="4">i</tspan><tspan dy="-4">)</tspan></text>
</g>

<!-- chart -->
<g id="chart">
<rect x="999" y="849" width="305" height="237" fill="none" stroke="#c0304a" stroke-width="1.6" stroke-dasharray="8 5"/>
<polygon fill="#dc6fae" fill-opacity="0.6" points="1060.5,1045.1 1067.2,1024.1 1073.8,976.4 1080.5,933.4 1087.2,904.8 1093.9,880.9 1098.4,868.5 1102.8,861.8 1107.3,871.3 1109.5,863.7 1114,868.5 1118.4,859.9 1122.9,867.5 1127.4,858.9 1131.8,866.6 1136.3,868.5 1138.5,876.1 1143,897.1 1149.7,933.4 1156.4,966.8 1163,1000.3 1169.7,1027 1174.2,1038.5 1178.7,1045.1 1183.1,1046.1 1187.6,1028.9 1194.3,990.7 1200.9,952.5 1207.6,919.1 1214.3,895.2 1221,878 1225.5,871.3 1229.9,874.2 1234.4,868.5 1238.9,871.3 1243.3,861.8 1245.6,855.1 1247.8,868.5 1252.2,870.4 1256.7,885.7 1261.2,900 1265.6,923.9 1272.3,957.3 1279,990.7 1285.7,1019.4 1292.4,1033.7 1296.8,1040.4 1301.3,1033.7 1303.5,1041.3 1303.5,1048 1296.8,1048 1292.4,1048 1285.7,1043.2 1279,1019.4 1272.3,985.9 1265.6,954.4 1261.2,933.4 1256.7,916.2 1252.2,906.7 1247.8,916.2 1243.3,902.8 1238.9,909.5 1234.4,897.1 1229.9,893.3 1225.5,887.6 1221,897.1 1214.3,919.1 1207.6,947.7 1200.9,985.9 1194.3,1019.4 1187.6,1046.1 1183.1,1048 1169.7,1048 1163,1028.9 1156.4,995.5 1149.7,962 1143,928.6 1138.5,912.4 1136.3,921 1131.8,909.5 1127.4,921 1122.9,914.3 1118.4,921.9 1114,908.6 1109.5,916.2 1105.1,904.8 1100.6,892.3 1096.1,897.1 1091.7,909.5 1087.2,938.2 1080.5,971.6 1073.8,1014.6 1067.2,1046.1 1060.5,1048"/>
<polyline fill="none" stroke="#e0203c" stroke-width="1.3" points="1056,1048 1062.7,1048 1067.2,1033.7 1073.8,990.7 1080.5,947.7 1087.2,916.2 1093.9,890.4 1098.4,878 1102.8,879 1107.3,882.8 1111.8,880.9 1116.2,881.8 1120.7,878 1125.1,879 1129.6,877.1 1134.1,879.9 1138.5,885.7 1143,909.5 1149.7,943 1156.4,976.4 1163,1009.8 1169.7,1036.5 1174.2,1046.1 1178.7,1048 1183.1,1048 1187.6,1038.5 1194.3,1005 1200.9,966.8 1207.6,933.4 1214.3,904.8 1221,885.7 1225.5,879.9 1229.9,881.8 1234.4,879 1238.9,880.9 1243.3,879.9 1247.8,883.7 1252.2,879 1254.5,889.5 1258.9,900 1265.6,933.4 1272.3,966.8 1279,1000.3 1285.7,1027 1292.4,1042.3 1296.8,1048 1301.3,1048"/>
<polyline fill="none" stroke="#6a6fb8" stroke-width="1.2" points="1056,1048 1062.7,1048 1067.2,1035.6 1073.8,992.6 1080.5,949.6 1087.2,918.1 1093.9,892.3 1098.4,878 1102.8,883.7 1107.3,889.5 1111.8,893.3 1116.2,890.4 1120.7,892.3 1125.1,889.5 1129.6,891.4 1134.1,890.4 1138.5,897.1 1143,914.3 1149.7,944.9 1156.4,978.3 1163,1011.7 1169.7,1038.5 1174.2,1047 1178.7,1048 1183.1,1048 1187.6,1039.4 1194.3,1006.9 1200.9,968.7 1207.6,935.3 1214.3,906.7 1221,887.6 1225.5,880.9 1229.9,882.8 1234.4,886.6 1238.9,890.4 1243.3,893.3 1247.8,892.3 1252.2,894.2 1256.7,899 1261.2,914.3 1265.6,935.3 1272.3,968.7 1279,1002.2 1285.7,1028.9 1292.4,1043.2 1296.8,1048 1301.3,1048"/>
<g stroke="#222" stroke-width="1" fill="none">
<line x1="1056" y1="852" x2="1056" y2="1048"/><line x1="1056" y1="1048" x2="1304" y2="1048"/>
<path d="M1052,857 H1056 M1052,905 H1056 M1052,952 H1056 M1052,1000 H1056 M1054,881 H1056 M1054,928 H1056 M1054,976 H1056 M1054,1024 H1056 M1167.5,1048 V1044 M1279,1048 V1044 M1111.7,1048 V1046 M1223.2,1048 V1046"/>
</g>
<g class="sr" font-size="10.5" text-anchor="end">
<text x="1050" y="861">20000</text><text x="1050" y="909">15000</text><text x="1050" y="956">10000</text><text x="1050" y="1004">5000</text><text x="1050" y="1052">0</text>
</g>
<g class="sr" font-size="10.5" text-anchor="middle">
<text x="1056" y="1062">0</text><text x="1167.5" y="1062">50</text><text x="1279" y="1062">100</text>
<text x="1178" y="1081" font-size="11.5">Data(15min)</text>
<text transform="translate(1012,946) rotate(-90)">Power(KW)</text>
</g>
</g>

<!-- connectors -->
<g id="connectors">
<use xlink:href="#barrow" x="271" y="126"/>
<use xlink:href="#barrow" x="543" y="126"/>
<use xlink:href="#barrow" x="794" y="126"/>
<use xlink:href="#barrow" x="1107" y="126"/>
<line class="blk" x1="320" y1="255" x2="343" y2="266" marker-end="url(#ah)"/>
<line class="blk" x1="325" y1="377" x2="344" y2="358" marker-end="url(#ah)"/>
<line class="blk" x1="475" y1="322" x2="513" y2="322" marker-end="url(#ah)"/>
<line class="blk" x1="608" y1="322" x2="646" y2="322" marker-end="url(#ah)"/>
<polyline class="blk" points="278,606 298,606 298,692 278,692"/>
<line class="blk" x1="298" y1="622" x2="318" y2="622" marker-end="url(#ah)"/>
<line class="blk" x1="430" y1="622" x2="452" y2="622" marker-end="url(#ah)"/>
<line class="blk" x1="587" y1="621" x2="614" y2="621" marker-end="url(#ah)"/>
<line class="blk" x1="700" y1="621" x2="727" y2="621" marker-end="url(#ah)"/>
<line class="blk" x1="822" y1="621" x2="847" y2="621" marker-end="url(#ah)"/>
<line class="blk" x1="823" y1="670" x2="843" y2="687" marker-end="url(#ah)"/>
<polyline class="blk" points="987,621 1010,621"/>
<polyline class="blk" points="1010,597 1010,726"/>
<line class="blk" x1="1010" y1="597" x2="1032" y2="597" marker-end="url(#ah)"/>
<line class="blk" x1="1010" y1="726" x2="1032" y2="726" marker-end="url(#ah)"/>
<line class="blk" x1="1161" y1="597" x2="1227" y2="598" marker-end="url(#ah)"/>
<line class="blk" x1="1161" y1="726" x2="1236" y2="724" marker-end="url(#ah)"/>
<polyline class="grn" points="375,671 375,718 458,718" marker-end="url(#ahg)"/>
<polyline class="grn" points="857,718 587,718" marker-end="url(#ahg)"/>
<polyline class="grn" points="775,670 775,718"/>
<polyline class="grn" points="1098,757 1098,771 522,771 522,751" marker-end="url(#ahg)"/>
</g>
</svg>
